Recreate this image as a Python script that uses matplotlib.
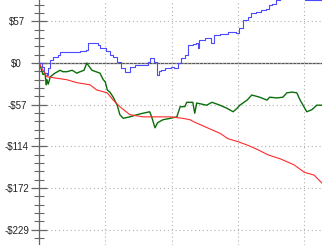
import matplotlib
matplotlib.use('Agg')
import matplotlib.pyplot as plt
import numpy as np

# blue series (step line)
blue_x = [0, 5, 8, 12, 14, 17, 21, 29, 32, 47, 62, 71, 74, 84, 89, 92, 98, 101, 107, 112,
          118, 124, 130, 134, 137, 145, 155, 164, 167, 173, 178, 181, 184, 190, 199, 204,
          210, 214, 220, 225, 232, 237, 240, 241, 250, 256, 259, 264, 273, 285, 294, 297,
          302, 308, 315, 320, 327, 335, 342, 347, 351, 357, 363, 379, 398, 401, 409, 413, 427]
blue_y = [0, -5, -14, -16, -7, 4, 8, 11, 15, 15, 16, 18, 27, 27, 25, 21, 21, 16, 11, 8,
          1, -7, -12, -12, -5, -3, -3, 1, 7, 1, -16, -11, -10, -7, -5, -7,
          0, 7, 11, 25, 26, 27, 21, 32, 34, 34, 27, 38, 40, 43, 43, 41,
          48, 59, 63, 69, 70, 73, 74, 80, 81, 86, 91, 92, 90, 86, 86, 87, 91]

# green series
green_x = [0, 3, 6, 9, 11, 12, 14, 17, 24, 32, 36, 42, 50, 57, 62, 68, 72, 75, 80, 86,
           92, 97, 100, 103, 107, 112, 118, 122, 127, 137, 148, 157, 167, 170, 175, 179,
           187, 198, 208, 213, 220, 223, 232, 235, 238, 253, 261, 273, 283, 293, 299, 303,
           314, 321, 333, 344, 348, 359, 368, 374, 382, 389, 394, 404, 412, 419, 427]
green_y = [0, -7, -16, -14, -30, -23, -29, -19, -14, -10, -12, -12, -10, -14, -12, -10, 0, -4, -10, -12,
           -14, -23, -26, -37, -40, -47, -58, -71, -76, -74, -71, -69, -67, -74, -89, -82,
           -78, -76, -74, -60, -60, -54, -54, -69, -55, -58, -54, -58, -62, -67, -62, -58,
           -51, -44, -47, -51, -47, -48, -47, -41, -40, -41, -51, -67, -64, -58, -58]

# red series
red_x = [0, 6, 12, 27, 42, 57, 77, 87, 103, 112, 122, 137, 157, 178, 198, 217, 228, 234,
         244, 259, 274, 285, 300, 315, 330, 345, 365, 385, 400, 415, 427]
red_y = [0, -10, -19, -21, -23, -27, -30, -37, -41, -51, -60, -71, -74, -74, -74, -76, -78, -81,
         -85, -91, -97, -104, -108, -113, -119, -126, -132, -140, -150, -154, -165]

step = 57.25
tick_vals = [step, 0, -step, -2 * step, -3 * step, -4 * step]
tick_labels = ['$57', '$0', '-$57', '-$114', '-$172', '-$229']

plt.rcParams['font.family'] = ['Liberation Sans', 'DejaVu Sans']

fig = plt.figure(figsize=(3.22, 2.45), dpi=100)
ax = fig.add_axes([39 / 322, 0, 283 / 322, 1])

ax.plot(blue_x, blue_y, color='#4a4aff', lw=0.8, drawstyle='steps-post')
ax.plot(green_x, green_y, color='#0b6e0b', lw=1.0)
ax.plot(red_x, red_y, color='#ff2a2a', lw=0.8)

ax.axhline(0, color='#555555', lw=0.9, zorder=1)

ax.set_xlim(0, 427)
ax.set_ylim(-250, 86.5)

ax.set_yticks(tick_vals)
ax.set_yticklabels(tick_labels)
ax.set_yticks(np.arange(-21, 8) * step / 5, minor=True)
ax.set_xticks([100, 200, 300, 400])
ax.tick_params(axis='x', length=0, labelbottom=False)
ax.tick_params(axis='y', which='major', direction='inout', length=12, width=0.9,
               color='#666666', labelsize=7, labelcolor='#222222', pad=10)
ax.tick_params(axis='y', which='minor', direction='inout', length=7, width=0.8,
               color='#666666')
for lab in ax.get_yticklabels():
    lab.set_horizontalalignment('center')

ax.grid(True, which='major', linestyle=(0, (1, 2.5)), color='#b0b0b0', lw=0.8)

for s in ['top', 'right', 'bottom']:
    ax.spines[s].set_visible(False)
ax.spines['left'].set_color('#666666')
ax.spines['left'].set_linewidth(0.9)

fig.savefig('out.png', dpi=100)
